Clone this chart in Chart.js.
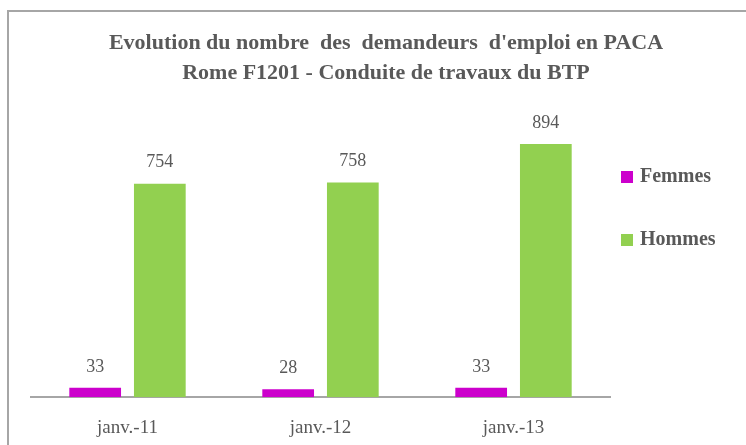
<!DOCTYPE html>
<html>
<head>
<meta charset="utf-8">
<script src="https://cdn.jsdelivr.net/npm/chart.js"></script>
<style>
  html, body { margin: 0; padding: 0; background: #fff; overflow: hidden; }
  #wrap { position: relative; width: 746px; height: 445px; }
  #cadre { position: absolute; left: 7px; top: 10px; width: 760px; height: 460px; border: 2px solid #a6a6a6; box-sizing: border-box; }
  canvas { position: absolute; left: 0; top: 0; }
</style>
</head>
<body>
<div id="wrap">
  <div id="cadre"></div>
  <canvas id="graphique" width="746" height="445"></canvas>
</div>
<script>
const periodes = ["janv.-11", "janv.-12", "janv.-13"];
const femmes = [33, 28, 33];
const hommes = [754, 758, 894];
const titre = ["Evolution du nombre  des  demandeurs  d'emploi en PACA", "Rome F1201 - Conduite de travaux du BTP"];

const gris = "#595959";
const serif = "'Liberation Serif', 'DejaVu Serif', serif";

// titre centré sur toute la largeur (pas seulement la zone du graphique)
const titreGraphique = {
  id: "titreGraphique",
  afterDraw(chart) {
    const ctx = chart.ctx;
    ctx.save();
    ctx.fillStyle = gris;
    ctx.font = "bold 22px " + serif;
    ctx.textAlign = "center";
    ctx.textBaseline = "middle";
    titre.forEach((ligne, i) => ctx.fillText(ligne, 386, 43 + i * 30));
    ctx.restore();
  }
};

// étiquettes de valeurs au-dessus des barres
const etiquettes = {
  id: "etiquettes",
  afterDatasetsDraw(chart) {
    const ctx = chart.ctx;
    ctx.save();
    ctx.fillStyle = gris;
    ctx.font = "18px " + serif;
    ctx.textAlign = "center";
    ctx.textBaseline = "middle";
    chart.data.datasets.forEach((ds, i) => {
      chart.getDatasetMeta(i).data.forEach((bar, j) => {
        ctx.fillText(ds.data[j], bar.x, bar.y - 21);
      });
    });
    ctx.restore();
  }
};

// légende à droite, comme dans Excel
const legende = {
  id: "legende",
  afterDraw(chart) {
    const ctx = chart.ctx;
    ctx.save();
    ctx.font = "bold 20px " + serif;
    ctx.textBaseline = "middle";
    chart.data.datasets.forEach((ds, i) => {
      const y = 177 + i * 63;
      ctx.fillStyle = ds.backgroundColor;
      ctx.fillRect(621, y - 6, 12, 12);
      ctx.fillStyle = gris;
      ctx.fillText(ds.label, 640, y);
    });
    ctx.restore();
  }
};

new Chart(document.getElementById("graphique"), {
  type: "bar",
  data: {
    labels: periodes,
    datasets: [
      {
        label: "Femmes",
        data: femmes,
        backgroundColor: "#cc00cc",
        barPercentage: 0.8,
        categoryPercentage: 0.67,
      },
      {
        label: "Hommes",
        data: hommes,
        backgroundColor: "#92d050",
        barPercentage: 0.8,
        categoryPercentage: 0.67,
      },
    ],
  },
  options: {
    responsive: false,
    animation: false,
    layout: { padding: { left: 31, right: 136, top: 114, bottom: -13 } },
    plugins: {
      legend: { display: false },
      tooltip: { enabled: false },
      title: { display: false },
    },
    scales: {
      x: {
        grid: { display: false, drawTicks: false },
        border: { display: true, color: "#a6a6a6", width: 2 },
        ticks: { color: gris, font: { family: serif, size: 19 }, padding: 19 },
      },
      y: {
        display: false,
        min: 0,
        max: 1000,
      },
    },
  },
  plugins: [titreGraphique, etiquettes, legende],
});
</script>
</body>
</html>
